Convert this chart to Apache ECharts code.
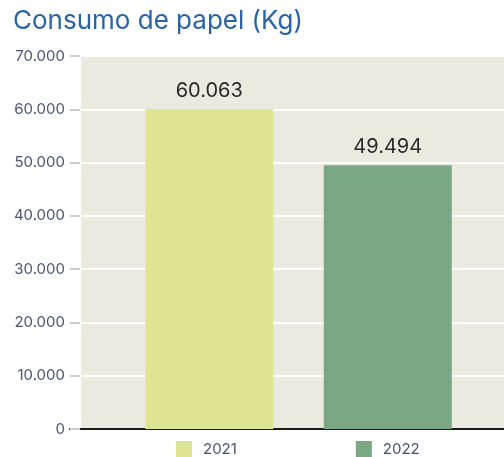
<!DOCTYPE html>
<html><head><meta charset="utf-8">
<script src="https://cdn.jsdelivr.net/npm/echarts@6/dist/echarts.min.js"></script>
<style>html,body{margin:0;padding:0;background:#fff}#c{width:504px;height:457px}</style>
</head><body><div id="c"></div>
<script>
const categories = ['2021', '2022'];
const values2021 = [60063, '-'];
const values2022 = ['-', 49494];
const yTicks = [0, 10000, 20000, 30000, 40000, 50000, 60000, 70000];

const fmt = v => String(v).replace(/\B(?=(\d{3})+(?!\d))/g, '.');
const FONT = 'Inter, "Liberation Sans", sans-serif';
const yMin = yTicks[0], yMax = yTicks[yTicks.length - 1], yStep = yTicks[1] - yTicks[0];

const chart = echarts.init(document.getElementById('c'));
chart.setOption({
  animation: false,
  title: { text: 'Consumo de papel (Kg)', left: 13, top: 8, padding: 0,
    textStyle: { color: '#2B63A8', fontSize: 26, fontWeight: 'normal', fontFamily: FONT } },
  legend: { left: 176, top: 441, padding: 0, itemWidth: 16, itemHeight: 16, itemGap: 119, icon: 'rect',
    textStyle: { color: '#46507A', fontSize: 15, fontFamily: FONT, padding: [0, 0, 0, 6] }, data: categories },
  grid: [
    { left: 81, right: 0, top: 56, bottom: 28, show: true, backgroundColor: '#ECE9DF', borderWidth: 0 },
    { left: 70, right: 0, top: 56, bottom: 28 },
    { left: 120, right: 27, top: 56, bottom: 28 }
  ],
  xAxis: [
    { gridIndex: 0, type: 'category', data: categories, show: false },
    { gridIndex: 1, type: 'category', data: categories, axisLabel: { show: false }, axisTick: { show: false },
      axisLine: { lineStyle: { color: '#1a1a1a', width: 2 } } },
    { gridIndex: 2, type: 'category', data: categories, show: false }
  ],
  yAxis: [
    { gridIndex: 0, type: 'value', min: yMin, max: yMax, interval: yStep,
      axisLabel: { show: false }, axisLine: { show: false }, axisTick: { show: false },
      splitLine: { lineStyle: { color: '#ffffff', width: 2 } } },
    { gridIndex: 1, type: 'value', min: yMin, max: yMax, interval: yStep,
      axisLine: { show: false }, splitLine: { show: false },
      axisTick: { show: true, inside: true, length: 10, lineStyle: { color: '#C9CDCC', width: 2 } },
      axisLabel: { formatter: v => fmt(v), color: '#4A5578', fontSize: 15, fontFamily: FONT, margin: 5 } },
    { gridIndex: 2, type: 'value', min: yMin, max: yMax, interval: yStep, show: false }
  ],
  series: [
    { name: '2021', type: 'bar', stack: 'a', xAxisIndex: 2, yAxisIndex: 2, data: values2021, barWidth: 128,
      itemStyle: { color: '#DFE693' },
      label: { show: true, position: 'top', distance: 8, formatter: p => fmt(p.value),
        color: '#2a2a2a', fontSize: 20, fontFamily: FONT } },
    { name: '2022', type: 'bar', stack: 'a', xAxisIndex: 2, yAxisIndex: 2, data: values2022, barWidth: 128,
      itemStyle: { color: '#7AA884' },
      label: { show: true, position: 'top', distance: 8, formatter: p => fmt(p.value),
        color: '#2a2a2a', fontSize: 20, fontFamily: FONT } }
  ]
});
</script></body></html>
